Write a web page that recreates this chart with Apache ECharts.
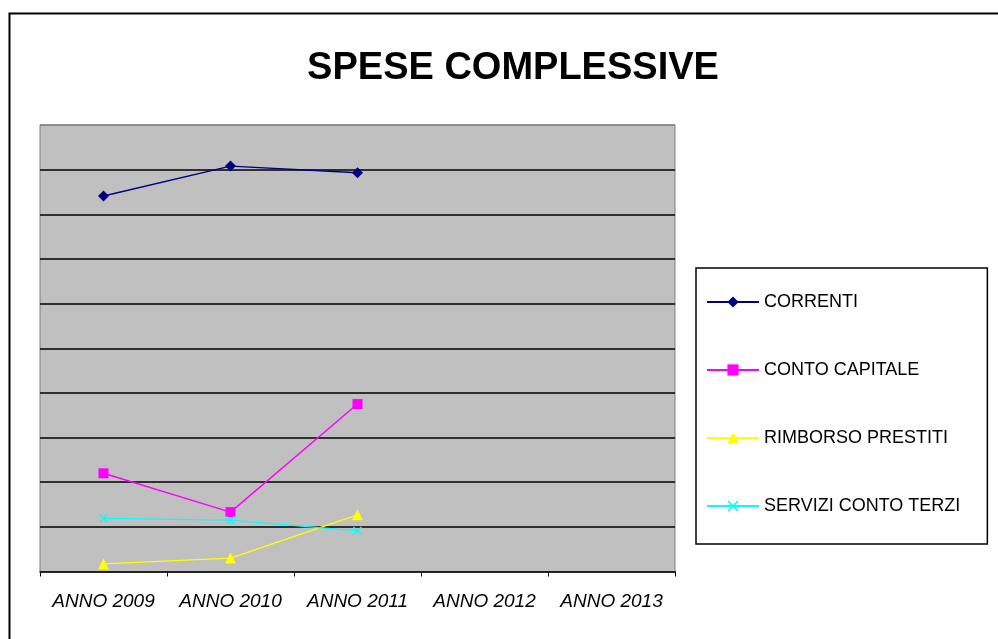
<!DOCTYPE html>
<html>
<head>
<meta charset="utf-8">
<script src="https://cdn.jsdelivr.net/npm/echarts@6/dist/echarts.min.js"></script>
<style>
  html, body { margin: 0; padding: 0; background: #fff; }
  #chart { width: 998px; height: 639px; }
</style>
</head>
<body>
<div id="chart"></div>
<script>
// categories and series (values in gridline units, axis has no labels)
const years = ['ANNO 2009', 'ANNO 2010', 'ANNO 2011', 'ANNO 2012', 'ANNO 2013'];
const correnti = [8.41, 9.08, 8.93, null, null];
const contoCapitale = [2.2, 1.33, 3.75, null, null];
const rimborsoPrestiti = [0.17, 0.3, 1.27, null, null];
const serviziContoTerzi = [1.19, 1.15, 0.91, null, null];

const xMark = 'path://M0,1L1,0L5,4L9,0L10,1L6,5L10,9L9,10L5,6L1,10L0,9L4,5Z';
const font = 'Liberation Sans, Arial, sans-serif';

const mChart = echarts.init(document.getElementById('chart'));

const lineSeries = (name, data, color, symbol, size) => ({
    name: name,
    type: 'line',
    data: data,
    symbol: symbol,
    symbolSize: size,
    showAllSymbol: true,
    connectNulls: false,
    lineStyle: { color: color, width: 1.4 },
    itemStyle: { color: color },
    emphasis: { disabled: true }
});

// top gridline is the plot border (grey), the others black
const gridColors = ['#808080', '#000', '#000', '#000', '#000', '#000', '#000', '#000', '#000', '#000'];

const options = {
    animation: false,
    title: {
        text: 'SPESE COMPLESSIVE',
        left: 508,
        textAlign: 'center',
        top: 45,
        textStyle: {
            fontFamily: font,
            fontSize: 38,
            fontWeight: 'bold',
            color: '#000'
        }
    },
    graphic: [{
        type: 'rect',
        shape: { x: 9.5, y: 13.5, width: 1000, height: 640 },
        style: { fill: null, stroke: '#000', lineWidth: 2 },
        z: -1
    }],
    legend: {
        orient: 'vertical',
        left: 696,
        top: 268,
        padding: [25, 27, 29, 10],
        itemGap: 50,
        itemWidth: 52,
        itemHeight: 14,
        backgroundColor: '#fff',
        borderColor: '#000',
        borderWidth: 1.5,
        textStyle: {
            fontFamily: font,
            fontSize: 18,
            color: '#000'
        },
        data: ['CORRENTI', 'CONTO CAPITALE', 'RIMBORSO PRESTITI', 'SERVIZI CONTO TERZI']
    },
    grid: {
        left: 40,
        top: 125,
        right: 323,
        bottom: 67.5,
        show: true,
        backgroundColor: '#c0c0c0',
        borderColor: '#808080',
        borderWidth: 1
    },
    xAxis: {
        type: 'category',
        data: years,
        boundaryGap: true,
        axisLine: { lineStyle: { color: '#000', width: 1.5 } },
        axisTick: { show: true, interval: 0, length: 5, lineStyle: { color: '#000' } },
        axisLabel: {
            interval: 0,
            margin: 21,
            fontFamily: font,
            fontSize: 19,
            fontStyle: 'italic',
            color: '#000'
        },
        splitLine: { show: false }
    },
    yAxis: {
        type: 'value',
        min: 0,
        max: 10,
        interval: 1,
        axisLine: { show: false },
        axisTick: { show: false },
        axisLabel: { show: false },
        splitLine: { show: true, lineStyle: { color: gridColors, width: 1.5 } }
    },
    series: [
        lineSeries('CORRENTI', correnti, '#000080', 'diamond', 11),
        lineSeries('CONTO CAPITALE', contoCapitale, '#ff00ff', 'rect', 10),
        lineSeries('RIMBORSO PRESTITI', rimborsoPrestiti, '#ffff00', 'triangle', 11),
        lineSeries('SERVIZI CONTO TERZI', serviziContoTerzi, '#00ffff', xMark, 9)
    ]
};

mChart.setOption(options);
</script>
</body>
</html>
